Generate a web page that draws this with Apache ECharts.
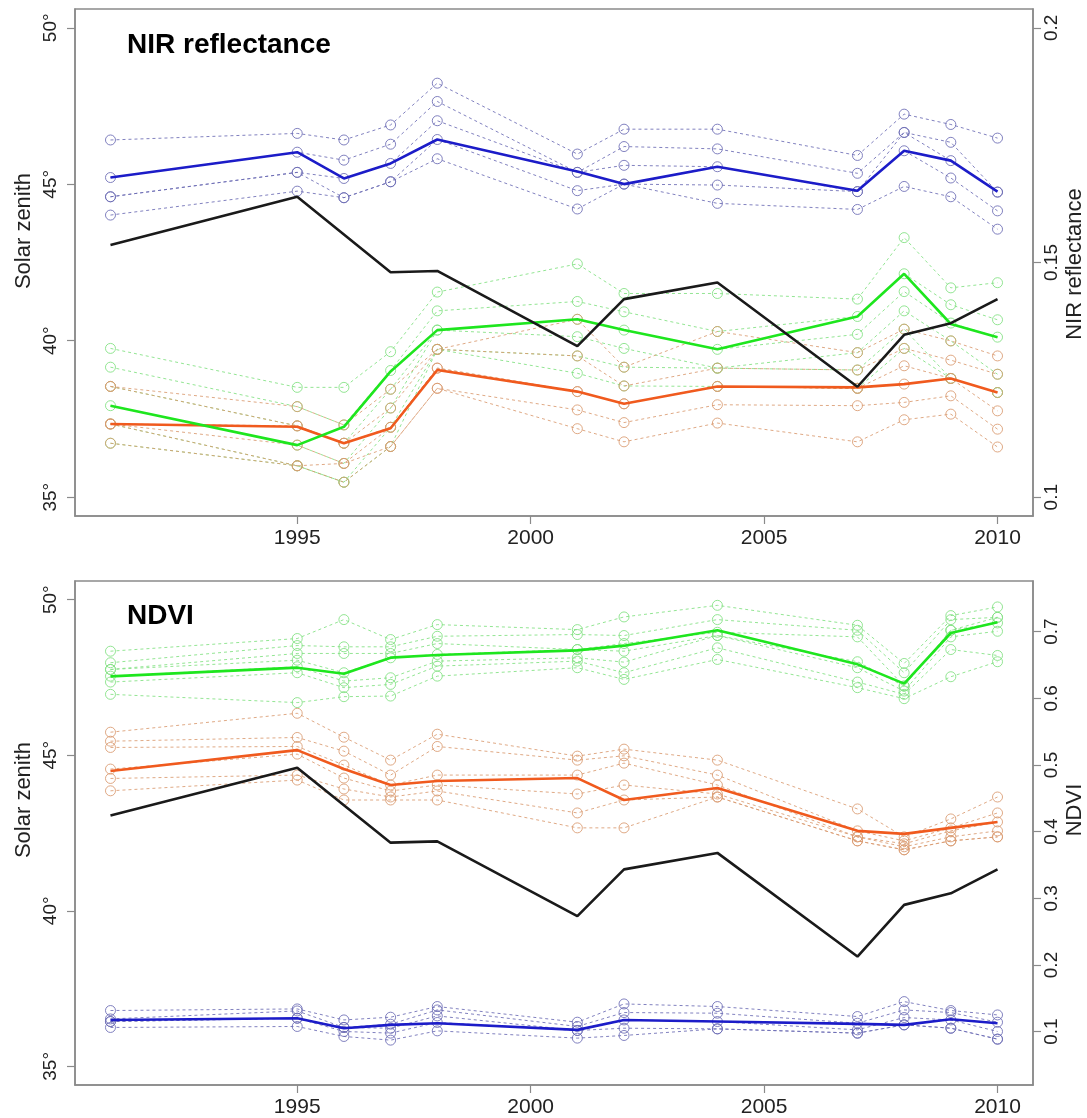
<!DOCTYPE html>
<html><head><meta charset="utf-8">
<script src="https://cdn.jsdelivr.net/npm/echarts@6/dist/echarts.min.js"></script>
<style>html,body{margin:0;padding:0;background:#fff}#c{width:1087px;height:1118px}</style>
</head><body><div id="c"></div>
<script>
// ---------- data ----------
const years = [1991,1995,1996,1997,1998,2001,2002,2004,2007,2008,2009,2010];
const zenithYears = [1991,1995,1997,1998,2001,2002,2004,2007,2008,2009,2010];
const solarZenith = [43.06,44.60,42.19,42.23,39.83,41.33,41.86,38.53,40.19,40.56,41.33];

const xTicks = [1995,2000,2005,2010];
const zenithTicks = [35,40,45,50];
const nirTicks = [0.1,0.15,0.2];
const ndviTicks = [0.1,0.2,0.3,0.4,0.5,0.6,0.7];

// NIR reflectance panel
const nirBlueMain   = [0.1681,0.1735,0.1679,0.1711,0.1762,0.1694,0.1667,0.1704,0.1653,0.1738,0.1717,0.1651];
const nirGreenMain  = [0.1195,0.1111,0.1150,0.1268,0.1356,0.1379,0.1356,0.1315,0.1385,0.1476,0.1369,0.1341];
const nirOrangeMain = [0.1156,0.1150,0.1115,0.1147,0.1271,0.1225,0.1199,0.1236,0.1234,0.1241,0.1253,0.1223];
const nirBlueSites = [
  [0.1761,0.1775,0.1761,0.1793,0.1882,0.1731,0.1784,0.1784,0.1728,0.1816,0.1794,0.1765],
  [0.1681,0.1735,0.1718,0.1752,0.1843,0.1692,0.1747,0.1742,0.1690,0.1777,0.1756,0.1650],
  [0.1640,0.1692,0.1679,0.1711,0.1802,0.1692,0.1707,0.1704,0.1651,0.1777,0.1717,0.1650],
  [0.1640,0.1692,0.1638,0.1672,0.1762,0.1653,0.1667,0.1665,0.1651,0.1738,0.1680,0.1610],
  [0.1601,0.1652,0.1638,0.1672,0.1721,0.1614,0.1667,0.1626,0.1613,0.1662,0.1640,0.1571]
];
const nirGreenSites = [
  [0.1317,0.1234,0.1234,0.1310,0.1437,0.1497,0.1434,0.1434,0.1422,0.1553,0.1446,0.1457],
  [0.1277,0.1193,0.1154,0.1270,0.1397,0.1417,0.1395,0.1353,0.1385,0.1476,0.1410,0.1378],
  [0.1236,0.1152,0.1115,0.1230,0.1356,0.1379,0.1356,0.1315,0.1347,0.1438,0.1371,0.1341],
  [0.1195,0.1111,0.1072,0.1190,0.1356,0.1342,0.1317,0.1275,0.1308,0.1397,0.1333,0.1262],
  [0.1156,0.1067,0.1032,0.1149,0.1315,0.1301,0.1277,0.1275,0.1271,0.1358,0.1253,0.1223],
  [0.1115,0.1067,0.1032,0.1108,0.1315,0.1264,0.1237,0.1236,0.1232,0.1317,0.1253,0.1223]
];
const nirOrangeSites = [
  [0.1236,0.1193,0.1154,0.1230,0.1315,0.1379,0.1277,0.1353,0.1308,0.1358,0.1333,0.1301],
  [0.1236,0.1152,0.1115,0.1190,0.1315,0.1301,0.1237,0.1275,0.1271,0.1317,0.1292,0.1262],
  [0.1156,0.1152,0.1115,0.1149,0.1275,0.1225,0.1199,0.1236,0.1232,0.1280,0.1253,0.1223],
  [0.1156,0.1111,0.1072,0.1149,0.1275,0.1225,0.1199,0.1236,0.1232,0.1241,0.1253,0.1184],
  [0.1156,0.1067,0.1072,0.1108,0.1232,0.1186,0.1159,0.1197,0.1195,0.1202,0.1216,0.1145],
  [0.1115,0.1067,0.1032,0.1108,0.1232,0.1146,0.1118,0.1158,0.1118,0.1165,0.1177,0.1107]
];

// NDVI panel
const ndviGreenMain  = [0.633,0.646,0.637,0.661,0.665,0.672,0.679,0.702,0.651,0.622,0.698,0.714];
const ndviOrangeMain = [0.4909,0.5223,0.4939,0.4700,0.4759,0.4804,0.4475,0.4655,0.4012,0.3967,0.4057,0.4146];
const ndviBlueMain   = [0.1176,0.1202,0.1052,0.1102,0.1127,0.1027,0.1176,0.1152,0.1117,0.1102,0.1187,0.1127];
const ndviGreenSites = [
  [0.6707,0.6897,0.7181,0.6882,0.7106,0.7031,0.7221,0.7395,0.7096,0.6523,0.7241,0.7371],
  [0.6534,0.6792,0.6773,0.6773,0.6931,0.6957,0.6942,0.7181,0.7021,0.6384,0.7181,0.7215],
  [0.6433,0.6673,0.6673,0.6673,0.6822,0.6732,0.6822,0.6991,0.6922,0.6184,0.7021,0.7215],
  [0.6433,0.6572,0.6384,0.6608,0.6658,0.6732,0.6707,0.6942,0.6549,0.6184,0.7021,0.7131],
  [0.6333,0.6474,0.6259,0.6309,0.6558,0.6608,0.6543,0.6942,0.6459,0.6109,0.6922,0.7006],
  [0.6244,0.6384,0.6160,0.6209,0.6483,0.6558,0.6384,0.6758,0.6244,0.6060,0.6732,0.6643],
  [0.6060,0.5936,0.6025,0.6034,0.6333,0.6459,0.6284,0.6583,0.6160,0.5995,0.6324,0.6549]
];
const ndviOrangeSites = [
  [0.5492,0.5776,0.5417,0.5073,0.5462,0.5133,0.5238,0.5073,0.4341,0.3922,0.4191,0.4520],
  [0.5357,0.5413,0.5208,0.4849,0.5278,0.5073,0.5138,0.4849,0.4012,0.3862,0.4057,0.4281],
  [0.5263,0.5278,0.4999,0.4700,0.4849,0.4849,0.5028,0.4700,0.3922,0.3818,0.4012,0.4146],
  [0.4939,0.5163,0.4804,0.4610,0.4700,0.4565,0.4700,0.4565,0.3922,0.3773,0.3922,0.4012],
  [0.4798,0.4849,0.4640,0.4520,0.4610,0.4281,0.4475,0.4520,0.3862,0.3728,0.3862,0.3922],
  [0.4613,0.4774,0.4475,0.4475,0.4475,0.4057,0.4057,0.4520,0.3862,0.3728,0.3862,0.3922]
];
const ndviBlueSites = [
  [0.1317,0.1341,0.1176,0.1217,0.1377,0.1142,0.1416,0.1377,0.1227,0.1451,0.1317,0.1251],
  [0.1191,0.1311,0.1063,0.1112,0.1326,0.1078,0.1287,0.1277,0.1127,0.1326,0.1287,0.1142],
  [0.1152,0.1202,0.1063,0.1052,0.1236,0.1018,0.1176,0.1152,0.1027,0.1212,0.1176,0.1003],
  [0.1152,0.1202,0.1003,0.0978,0.1138,0.1018,0.1052,0.1042,0.0978,0.1102,0.1052,0.0888],
  [0.1063,0.1078,0.0928,0.0873,0.1012,0.0903,0.0943,0.1042,0.0978,0.1102,0.1052,0.0888]
];

// ---------- styling ----------
const FONT = 'Liberation Sans, Arial, sans-serif';
const BOX = '#8a8a8a';
const C = {
  blue:'#1c1cc8', blueSite:'#6b6bb4',
  green:'#1ee61e', greenSite:'#80e080',
  orange:'#f05a1e', orangeSite:'#d99a70',
  black:'#1a1a1a'
};

function pairs(xs, ys){ return xs.map((x,i)=>[x, ys[i]]); }

function siteSeries(lines, color, xi, yi){
  return lines.map(l => ({
    type:'line', xAxisIndex:xi, yAxisIndex:yi, data:pairs(years,l),
    symbol:'circle', symbolSize:10, showSymbol:true, silent:true, animation:false, z:2,
    lineStyle:{color:color, width:1, type:[3,3], opacity:0.85},
    itemStyle:{color:'rgba(0,0,0,0)', borderColor:color, borderWidth:1, opacity:0.85}
  }));
}
function mainSeries(vals, color, xi, yi, xs){
  return {type:'line', xAxisIndex:xi, yAxisIndex:yi, data:pairs(xs||years, vals),
    symbol:'none', silent:true, animation:false, z:5,
    lineStyle:{color:color, width:2.6}};
}

function xAxis(gi){
  return {type:'value', gridIndex:gi, min:1990.24, max:2010.76,
    splitLine:{show:false},
    axisLine:{show:true, onZero:false, lineStyle:{color:BOX, width:1.5}},
    axisTick:{show:true, customValues:xTicks, length:8, lineStyle:{color:BOX, width:1.2}},
    axisLabel:{customValues:xTicks, fontSize:21, margin:12, color:'#222', fontFamily:FONT,
      formatter: v => String(Math.round(v))}};
}
function yAxis(gi, pos, min, max, ticks, fmt, margin){
  return {type:'value', gridIndex:gi, position:pos, min:min, max:max,
    splitLine:{show:false},
    axisLine:{show:true, onZero:false, lineStyle:{color:BOX, width:1.5}},
    axisTick:{show:true, customValues:ticks, length:8, lineStyle:{color:BOX, width:1.2}},
    axisLabel:{customValues:ticks, rotate:90, fontSize:19, margin:margin, color:'#222', fontFamily:FONT, formatter:fmt}};
}
const degFmt = v => Math.round(v) + '°';
const numFmt = v => String(+(+v).toFixed(2));

const series = [];
series.push(...siteSeries(nirGreenSites, C.greenSite, 0, 1));
series.push(...siteSeries(nirOrangeSites, C.orangeSite, 0, 1));
series.push(...siteSeries(nirBlueSites, C.blueSite, 0, 1));
series.push(mainSeries(nirOrangeMain, C.orange, 0, 1));
series.push(mainSeries(nirGreenMain, C.green, 0, 1));
series.push(mainSeries(nirBlueMain, C.blue, 0, 1));
series.push(mainSeries(solarZenith, C.black, 0, 0, zenithYears));
series.push(...siteSeries(ndviGreenSites, C.greenSite, 1, 3));
series.push(...siteSeries(ndviOrangeSites, C.orangeSite, 1, 3));
series.push(...siteSeries(ndviBlueSites, C.blueSite, 1, 3));
series.push(mainSeries(ndviOrangeMain, C.orange, 1, 3));
series.push(mainSeries(ndviGreenMain, C.green, 1, 3));
series.push(mainSeries(ndviBlueMain, C.blue, 1, 3));
series.push(mainSeries(solarZenith, C.black, 1, 2, zenithYears));

function vText(text, x, y, size){
  return {type:'text', x:x, y:y, rotation:Math.PI/2, silent:true,
    style:{text:text, fontSize:size, fontFamily:FONT, fill:'#222',
      align:'center', verticalAlign:'middle', textAlign:'center', textVerticalAlign:'middle'}};
}
function hText(text, x, y, size){
  return {type:'text', x:x, y:y, silent:true,
    style:{text:text, fontSize:size, fontWeight:'bold', fontFamily:FONT, fill:'#000',
      align:'left', verticalAlign:'middle', textAlign:'left', textVerticalAlign:'middle'}};
}

const chart = echarts.init(document.getElementById('c'), null, {renderer:'canvas'});
chart.setOption({
  animation:false,
  backgroundColor:'#fff',
  grid:[
    {left:75, top:9, width:958, height:507, show:true, borderColor:BOX, borderWidth:1.5, backgroundColor:'rgba(0,0,0,0)'},
    {left:75, top:581, width:958, height:506, show:true, borderColor:BOX, borderWidth:1.5, backgroundColor:'rgba(0,0,0,0)'}
  ],
  xAxis:[xAxis(0), xAxis(1)],
  yAxis:[
    yAxis(0,'left',34.4,50.6,zenithTicks,degFmt,15),
    yAxis(0,'right',0.096,0.204,nirTicks,numFmt,9),
    yAxis(1,'left',34.4,50.6,zenithTicks,degFmt,15),
    yAxis(1,'right',0.020,0.776,ndviTicks,numFmt,9)
  ],
  series:series,
  graphic:[
    hText('NIR reflectance', 127, 45, 28),
    hText('NDVI', 127, 616, 28),
    vText('Solar zenith', 24, 231, 22),
    vText('Solar zenith', 24, 800, 22),
    vText('NIR reflectance', 1075, 264, 22),
    vText('NDVI', 1075, 810, 22)
  ]
});
</script></body></html>
